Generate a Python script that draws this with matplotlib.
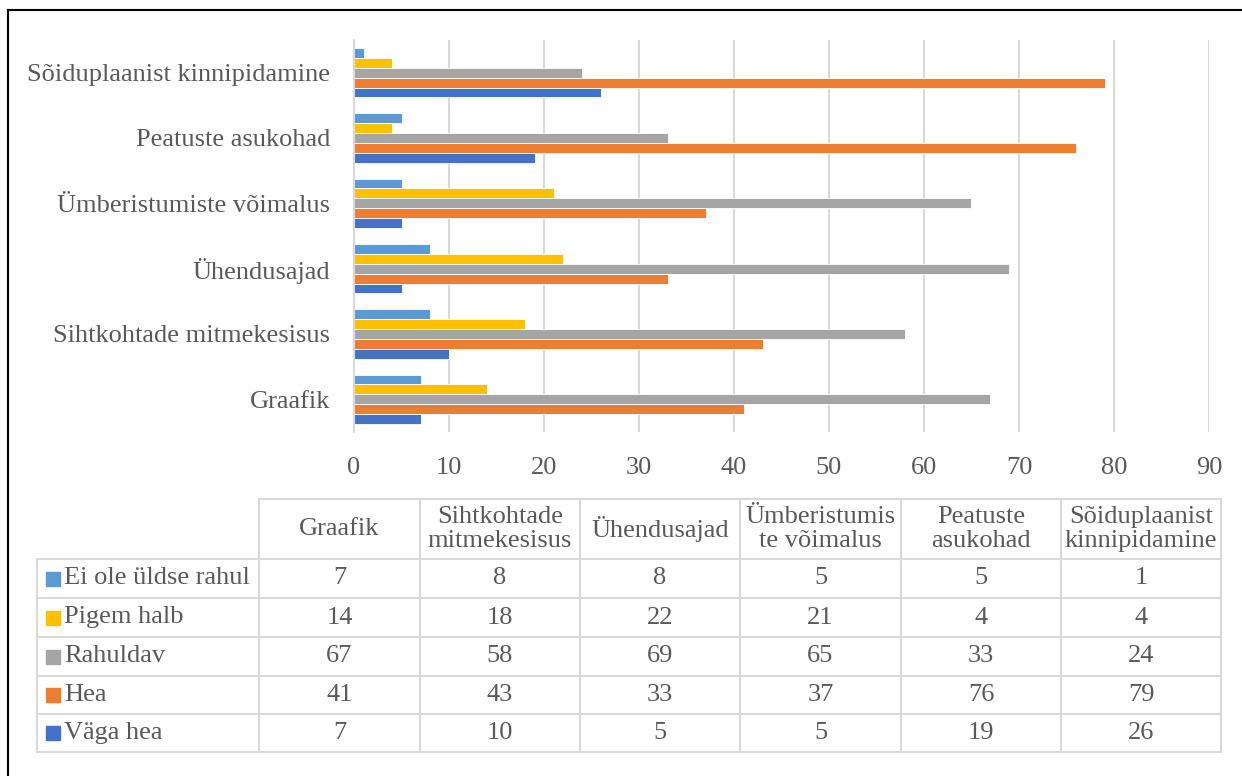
import matplotlib
matplotlib.use("Agg")
import matplotlib.pyplot as plt
import numpy as np
from matplotlib.patches import Rectangle

categories = ["Graafik", "Sihtkohtade mitmekesisus", "Ühendusajad",
              "Ümberistumiste võimalus", "Peatuste asukohad",
              "Sõiduplaanist kinnipidamine"]
table_headers = ["Graafik", "Sihtkohtade\nmitmekesisus", "Ühendusajad",
                 "Ümberistumis\nte võimalus", "Peatuste\nasukohad",
                 "Sõiduplaanist\nkinnipidamine"]
series_names = ["Ei ole üldse rahul", "Pigem halb", "Rahuldav", "Hea", "Väga hea"]
ei_ole = [7, 8, 8, 5, 5, 1]
pigem_halb = [14, 18, 22, 21, 4, 4]
rahuldav = [67, 58, 69, 65, 33, 24]
hea = [41, 43, 33, 37, 76, 79]
vaga_hea = [7, 10, 5, 5, 19, 26]
series_values = [ei_ole, pigem_halb, rahuldav, hea, vaga_hea]
colors = ["#5B9BD5", "#FFC000", "#A5A5A5", "#ED7D31", "#4472C4"]
x_ticks = [0, 10, 20, 30, 40, 50, 60, 70, 80, 90]

W, H = 1242, 776
plt.rcParams["font.family"] = ["Liberation Serif", "DejaVu Serif"]
text_color = "#595959"
grid_color = "#D9D9D9"
fs = 19

fig = plt.figure(figsize=(W / 100, H / 100), dpi=100)

# bar chart area
ax = fig.add_axes([354 / W, 1 - 432 / H, (1209 - 354) / W, (432 - 40) / H])
y = np.arange(len(categories))
bh = 0.152
n = len(series_names)
for i, (name, vals, c) in enumerate(zip(series_names, series_values, colors)):
    offset = (n - 1 - i - (n - 1) / 2) * bh
    ax.barh(y + offset, vals, height=bh, color=c, edgecolor="white",
            linewidth=0.6, zorder=3)
ax.set_xlim(0, 90)
ax.set_ylim(-0.5, len(categories) - 0.5)
ax.set_xticks(x_ticks)
ax.set_yticks(y)
ax.set_yticklabels(categories)
ax.tick_params(axis="both", length=0, labelsize=fs, colors=text_color)
ax.tick_params(axis="x", pad=18)
ax.tick_params(axis="y", pad=17)
ax.grid(axis="x", color=grid_color, linewidth=1.5, zorder=0)
for s in ["top", "right", "bottom"]:
    ax.spines[s].set_visible(False)
ax.spines["left"].set_color(grid_color)
ax.spines["left"].set_linewidth(1.5)
ax.spines["left"].set_zorder(4)

# data table below the chart, laid out in pixel coordinates
tax = fig.add_axes([0, 0, 1, 1])
tax.set_xlim(0, W)
tax.set_ylim(H, 0)
tax.axis("off")

col_edges = [37, 259, 420, 580, 740, 901, 1061, 1221]
row_edges = [499, 559, 598, 637, 676, 714, 752]
line_kw = dict(color=grid_color, linewidth=1.5)

# header row (no cell above the legend column)
tax.plot([col_edges[1], col_edges[-1]], [row_edges[0], row_edges[0]], **line_kw)
for r in row_edges[1:]:
    tax.plot([col_edges[0], col_edges[-1]], [r, r], **line_kw)
tax.plot([col_edges[0], col_edges[0]], [row_edges[1], row_edges[-1]], **line_kw)
for cx in col_edges[1:]:
    tax.plot([cx, cx], [row_edges[0], row_edges[-1]], **line_kw)

for j, head in enumerate(table_headers):
    cx = (col_edges[j + 1] + col_edges[j + 2]) / 2
    cy = (row_edges[0] + row_edges[1]) / 2
    tax.text(cx, cy, head, ha="center", va="center", fontsize=fs,
             color=text_color, linespacing=1.15)

for i, (name, vals, c) in enumerate(zip(series_names, series_values, colors)):
    cy = (row_edges[i + 1] + row_edges[i + 2]) / 2
    tax.add_patch(Rectangle((46, cy - 7), 14, 14, color=c))
    tax.text(64, cy, name, ha="left", va="center", fontsize=fs, color=text_color)
    for j, v in enumerate(vals):
        cx = (col_edges[j + 1] + col_edges[j + 2]) / 2
        tax.text(cx, cy, str(v), ha="center", va="center", fontsize=fs,
                 color=text_color)

# outer frame
tax.plot([8, 8], [10, H], color="black", linewidth=1.5)
tax.plot([8, W], [10, 10], color="black", linewidth=1.5)

fig.savefig("out.png", dpi=100)
